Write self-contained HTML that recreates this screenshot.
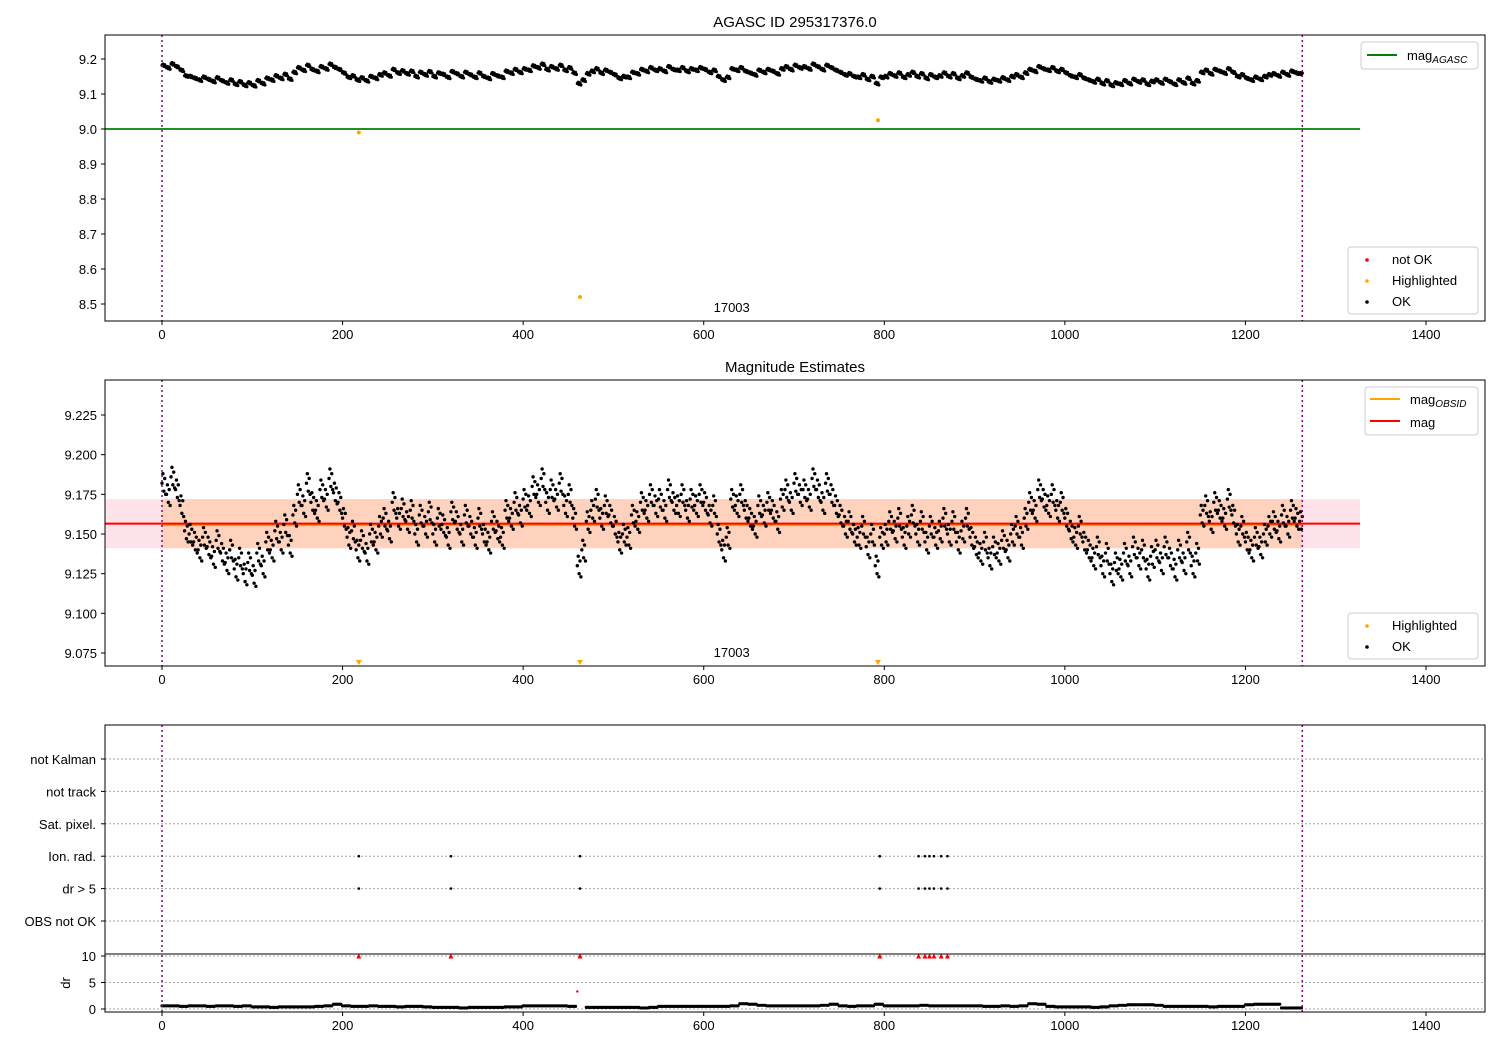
<!DOCTYPE html>
<html><head><meta charset="utf-8"><style>
body{margin:0;background:#fff}
svg text{font-family:"Liberation Sans","DejaVu Sans",sans-serif;fill:#000}
</style></head><body>
<svg id="chart" width="1500" height="1050" xmlns="http://www.w3.org/2000/svg"></svg>
<script>
// ---- data ----
const magStep = 5;
const magValues = [
9.182,9.175,9.186,9.178,9.168,9.152,9.150,9.145,9.140,9.148,
9.142,9.136,9.146,9.138,9.132,9.140,9.128,9.135,9.125,9.132,
9.124,9.138,9.130,9.145,9.140,9.152,9.145,9.156,9.143,9.162,
9.175,9.168,9.182,9.170,9.165,9.178,9.172,9.185,9.176,9.170,
9.160,9.148,9.152,9.140,9.146,9.138,9.150,9.145,9.155,9.160,
9.152,9.170,9.160,9.166,9.158,9.165,9.150,9.162,9.155,9.164,
9.150,9.160,9.156,9.148,9.164,9.158,9.150,9.162,9.155,9.148,
9.160,9.150,9.145,9.158,9.152,9.148,9.165,9.160,9.170,9.162,
9.172,9.168,9.180,9.175,9.185,9.170,9.178,9.172,9.182,9.168,
9.175,9.160,9.130,9.140,9.158,9.165,9.172,9.160,9.168,9.162,
9.155,9.145,9.150,9.148,9.162,9.158,9.170,9.165,9.175,9.168,
9.172,9.165,9.178,9.170,9.168,9.175,9.165,9.172,9.168,9.175,
9.170,9.162,9.168,9.150,9.140,9.148,9.172,9.168,9.175,9.165,
9.160,9.155,9.168,9.162,9.170,9.165,9.158,9.172,9.178,9.170,
9.182,9.175,9.178,9.172,9.185,9.178,9.170,9.182,9.175,9.168,
9.162,9.155,9.158,9.150,9.148,9.155,9.142,9.150,9.130,9.148,
9.150,9.158,9.152,9.160,9.148,9.155,9.162,9.150,9.158,9.145,
9.155,9.148,9.152,9.160,9.150,9.158,9.145,9.152,9.160,9.148,
9.142,9.138,9.145,9.135,9.142,9.138,9.146,9.140,9.150,9.155,
9.148,9.160,9.170,9.165,9.178,9.172,9.168,9.175,9.165,9.170,
9.160,9.152,9.148,9.155,9.145,9.140,9.135,9.142,9.130,9.138,
9.125,9.132,9.128,9.138,9.130,9.142,9.135,9.140,9.128,9.136,
9.140,9.132,9.142,9.135,9.128,9.140,9.132,9.145,9.130,9.138,
9.162,9.168,9.158,9.170,9.165,9.160,9.172,9.162,9.150,9.155,
9.145,9.140,9.148,9.142,9.150,9.155,9.158,9.152,9.162,9.155,
9.165,9.160,9.158];
const highlightTimes = [218, 463, 793];
const highlightMags = [8.99, 8.52, 9.025];
const magAgasc = 9.0;
const magObsid = 9.1565;
const magBandLow = 9.141;
const magBandHigh = 9.172;
const eventTimes = [218, 320, 463, 795, 838, 845, 850, 855, 863, 870];
const drStep = 10;
const drValues = [
0.6,0.6,0.5,0.6,0.6,0.5,0.6,0.6,0.5,0.6,
0.4,0.4,0.3,0.4,0.4,0.4,0.4,0.5,0.6,0.9,
0.6,0.5,0.5,0.6,0.5,0.5,0.4,0.5,0.5,0.4,
0.3,0.3,0.3,0.2,0.3,0.3,0.3,0.3,0.4,0.4,
0.6,0.6,0.6,0.6,0.6,0.5,3.3,0.3,0.3,0.3,
0.3,0.3,0.3,0.2,0.3,0.5,0.5,0.5,0.5,0.5,
0.5,0.5,0.5,0.6,1.0,0.9,0.7,0.6,0.6,0.6,
0.6,0.6,0.6,0.7,0.9,0.6,0.5,0.6,0.6,0.9,
0.6,0.6,0.6,0.6,0.7,0.6,0.6,0.6,0.6,0.6,
0.6,0.5,0.5,0.6,0.5,0.6,1.0,0.9,0.5,0.4,
0.4,0.4,0.4,0.3,0.4,0.6,0.7,0.8,0.8,0.8,
0.7,0.5,0.5,0.5,0.5,0.5,0.4,0.5,0.5,0.5,
0.8,0.9,0.9,0.9,0.2,0.2,0.2];
const xTicks = [0,200,400,600,800,1000,1200,1400];
const p1Ticks = [9.2,9.1,9.0,8.9,8.8,8.7,8.6,8.5];
const p2Ticks = [9.225,9.2,9.175,9.15,9.125,9.1,9.075];
const categories = ["OBS not OK","dr > 5","Ion. rad.","Sat. pixel.","not track","not Kalman"];
const drTicks = [0,5,10];
const obsLabel = "17003";
const tEnd = 1263;

// ---- helpers ----
const svg = document.getElementById('chart');
const NS = 'http://www.w3.org/2000/svg';
function mk(tag, attrs, parent){const e=document.createElementNS(NS,tag);for(const k in attrs)e.setAttribute(k,attrs[k]);(parent||svg).appendChild(e);return e;}
function txt(s, attrs, parent){const e=mk('text',attrs,parent);e.textContent=s;return e;}
const X0=105,X1=1485;
const xs = t => 162 + t*(1426-162)/1400;
function lin(d0,d1,r0,r1){return v=>r0+(v-d0)*(r1-r0)/(d1-d0);}
const y1 = lin(9.2,8.5,59,304);
const y2 = lin(9.225,9.075,415,653);
const yc = lin(0,5,921,759);
const yd = lin(0,10,1009,956);
// marker spread (visual cluster around each sampled value)
const clusterDx = [0,1,2,3,4];
const clusterDy = [0,0.006,-0.005,0.003,-0.007];

function xAxis(g, yb){
  xTicks.forEach(t=>{
    mk('line',{x1:xs(t),x2:xs(t),y1:yb,y2:yb+4,stroke:'#000'},g);
    const l=txt(String(t),{x:xs(t),y:yb+18,'font-size':13,'text-anchor':'middle'},g);
    
    
  });
}
function frame(g,yt,yb){mk('rect',{x:X0,y:yt,width:X1-X0,height:yb-yt,fill:'none',stroke:'#000','stroke-width':1},g);}
function vlines(g,yt,yb){[0,tEnd].forEach(t=>{mk('line',{x1:xs(t),x2:xs(t),y1:yt,y2:yb,stroke:'#800080','stroke-width':1.5,'stroke-dasharray':'2,3'},g);});}

// ---- panel 1 ----
const g1=mk('g',{});
txt('AGASC ID 295317376.0',{x:795,y:27,'font-size':15,'text-anchor':'middle'},g1);
mk('line',{x1:X0,x2:xs(1327),y1:y1(magAgasc),y2:y1(magAgasc),stroke:'green','stroke-width':1.8},g1);
magValues.forEach((v,i)=>{clusterDx.forEach((dx,k)=>{if(i*magStep+dx>tEnd)return;const c=mk('circle',{cx:xs(i*magStep+dx),cy:y1(v+clusterDy[k]*0.6),r:1.6,fill:'#000'},g1);});});
highlightTimes.forEach((t,i)=>{const c=mk('circle',{cx:xs(t),cy:y1(highlightMags[i]),r:2,fill:'orange'},g1);});
vlines(g1,35,321);
txt(obsLabel,{x:xs(631),y:312,'font-size':13,'text-anchor':'middle'},g1);
p1Ticks.forEach(v=>{mk('line',{x1:X0-4,x2:X0,y1:y1(v),y2:y1(v),stroke:'#000'},g1);txt(v.toFixed(1),{x:X0-8,y:y1(v)+5,'font-size':13,'text-anchor':'end'},g1);});
frame(g1,35,321);xAxis(g1,321);
let lg=mk('g',{},g1);
mk('rect',{x:1361,y:42,width:117,height:27,rx:3,fill:'#fff',stroke:'#ccc'},lg);
mk('line',{x1:1367,x2:1397,y1:55,y2:55,stroke:'green','stroke-width':2},lg);
let tt=txt('mag',{x:1407,y:60,'font-size':13},lg);const sub=mk('tspan',{'font-size':10,'font-style':'italic',dy:3},tt);sub.textContent='AGASC';
lg=mk('g',{},g1);
mk('rect',{x:1348,y:247,width:130,height:67,rx:3,fill:'#fff',stroke:'#ccc'},lg);
[['not OK','red',264],['Highlighted','orange',285],['OK','#000',306]].forEach(([s,c,y])=>{mk('circle',{cx:1367,cy:y-4,r:1.8,fill:c},lg);txt(s,{x:1392,y:y,'font-size':13},lg);});

// ---- panel 2 ----
const g2=mk('g',{});
txt('Magnitude Estimates',{x:795,y:372,'font-size':15,'text-anchor':'middle'},g2);
mk('rect',{x:X0,y:y2(magBandHigh),width:xs(1327)-X0,height:y2(magBandLow)-y2(magBandHigh),fill:'rgba(255,0,60,0.11)'},g2);
mk('rect',{x:xs(0),y:y2(magBandHigh),width:xs(tEnd)-xs(0),height:y2(magBandLow)-y2(magBandHigh),fill:'rgba(255,160,60,0.25)'},g2);
mk('line',{x1:xs(0),x2:xs(tEnd),y1:y2(magObsid)+1.5,y2:y2(magObsid)+1.5,stroke:'orange','stroke-width':2},g2);
mk('line',{x1:X0,x2:xs(1327),y1:y2(magObsid),y2:y2(magObsid),stroke:'red','stroke-width':2},g2);
magValues.forEach((v,i)=>{clusterDx.forEach((dx,k)=>{if(i*magStep+dx>tEnd)return;const c=mk('circle',{cx:xs(i*magStep+dx),cy:y2(v+clusterDy[k]),r:1.7,fill:'#000'},g2);});});
highlightTimes.forEach(t=>{const x=xs(t);const p=mk('polygon',{points:`${x-3},660 ${x+3},660 ${x},665`,fill:'orange'},g2);});
vlines(g2,380,666);
txt(obsLabel,{x:xs(631),y:657,'font-size':13,'text-anchor':'middle'},g2);
p2Ticks.forEach(v=>{mk('line',{x1:X0-4,x2:X0,y1:y2(v),y2:y2(v),stroke:'#000'},g2);txt(v.toFixed(3),{x:X0-8,y:y2(v)+5,'font-size':13,'text-anchor':'end'},g2);});
frame(g2,380,666);xAxis(g2,666);
lg=mk('g',{},g2);
mk('rect',{x:1365,y:387,width:113,height:48,rx:3,fill:'#fff',stroke:'#ccc'},lg);
mk('line',{x1:1370,x2:1400,y1:399,y2:399,stroke:'orange','stroke-width':2},lg);
tt=txt('mag',{x:1410,y:404,'font-size':13},lg);const s2=mk('tspan',{'font-size':10,'font-style':'italic',dy:3},tt);s2.textContent='OBSID';
mk('line',{x1:1370,x2:1400,y1:421,y2:421,stroke:'red','stroke-width':2},lg);
txt('mag',{x:1410,y:427,'font-size':13},lg);
lg=mk('g',{},g2);
mk('rect',{x:1348,y:613,width:130,height:46,rx:3,fill:'#fff',stroke:'#ccc'},lg);
[['Highlighted','orange',630],['OK','#000',651]].forEach(([s,c,y])=>{mk('circle',{cx:1367,cy:y-4,r:1.8,fill:c},lg);txt(s,{x:1392,y:y,'font-size':13},lg);});

// ---- panel 3 ----
const g3=mk('g',{});
categories.forEach((c,i)=>{mk('line',{x1:X0,x2:X1,y1:yc(i),y2:yc(i),stroke:'#aaa','stroke-dasharray':'2,2'},g3);mk('line',{x1:X0-4,x2:X0,y1:yc(i),y2:yc(i),stroke:'#000'},g3);txt(c,{x:X0-9,y:yc(i)+5,'font-size':13,'text-anchor':'end'},g3);});
drTicks.forEach(v=>{mk('line',{x1:X0,x2:X1,y1:yd(v),y2:yd(v),stroke:'#aaa','stroke-dasharray':'2,2'},g3);mk('line',{x1:X0-4,x2:X0,y1:yd(v),y2:yd(v),stroke:'#000'},g3);txt(String(v),{x:X0-9,y:yd(v)+5,'font-size':13,'text-anchor':'end'},g3);});
txt('dr',{x:70,y:983,'font-size':13,'text-anchor':'middle',transform:'rotate(-90 70 983)'},g3);
eventTimes.forEach(t=>{[1,2].forEach(ci=>{const c=mk('circle',{cx:xs(t),cy:yc(ci),r:1.3,fill:'#000'},g3);});
  const x=xs(t),y=yd(10);const p=mk('polygon',{points:`${x-2.5},${y+2.5} ${x+2.5},${y+2.5} ${x},${y-2.5}`,fill:'red'},g3);});
drValues.forEach((v,i)=>{
  if(v>2){const c=mk('circle',{cx:xs(i*drStep),cy:yd(v),r:1.2,fill:'red'},g3);return;}
  [0,2,4,6,8].forEach(dx=>{if(i*drStep+dx>tEnd)return;const c=mk('circle',{cx:xs(i*drStep+dx),cy:yd(v),r:1.6,fill:'#000'},g3);});
});
vlines(g3,725,1012);
mk('line',{x1:X0,x2:X1,y1:954,y2:954,stroke:'#000'},g3);
frame(g3,725,1012);xAxis(g3,1012);
</script>
</body></html>
